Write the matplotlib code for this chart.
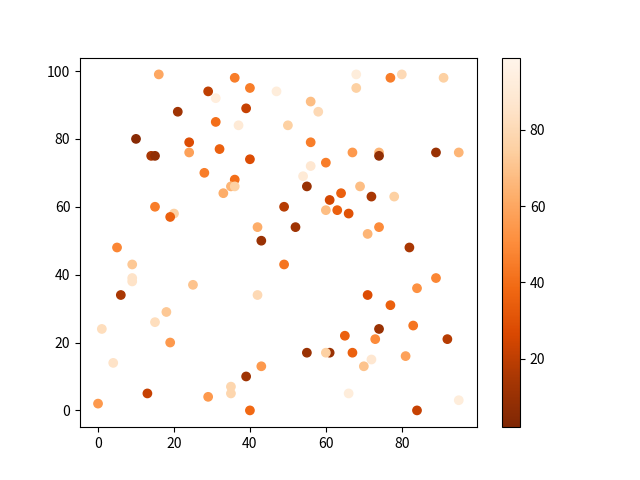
import matplotlib
matplotlib.use("Agg")
import matplotlib.pyplot as plt

plt.rcParams['font.family'] = ['Noto Sans CJK SC', 'DejaVu Sans']

x = [16, 36, 40, 47, 29, 31, 21, 39, 31, 37, 10, 24, 24, 32, 14, 15, 40, 28, 36, 35,
     36, 33, 15, 20, 19, 42, 43,
     68, 77, 80, 91, 68, 56, 58, 50, 56, 67, 74, 74, 89, 95, 56, 60, 54, 55, 69, 64,
     61, 72, 78, 49, 60, 63, 66, 52, 71, 74,
     5, 9, 9, 9, 6, 25, 42, 18, 15, 1, 19, 4, 43, 39, 13, 29, 35, 35, 0, 40,
     82, 49, 89, 84, 71, 77, 74, 83, 65, 73, 92, 55, 61, 60, 67, 72, 70, 81, 66, 95, 84]
y = [99, 98, 95, 94, 94, 92, 88, 89, 85, 84, 80, 79, 76, 77, 75, 75, 74, 70, 68, 66,
     66, 64, 60, 58, 57, 54, 50,
     99, 98, 99, 98, 95, 91, 88, 84, 79, 76, 76, 75, 76, 76, 72, 73, 69, 66, 66, 64,
     62, 63, 63, 60, 59, 59, 58, 54, 52, 54,
     48, 43, 39, 38, 34, 37, 34, 29, 26, 24, 20, 14, 13, 10, 5, 4, 7, 5, 2, 0,
     48, 43, 39, 36, 34, 31, 24, 25, 22, 21, 21, 17, 17, 17, 17, 15, 13, 16, 5, 3, 0]
c = [60, 45, 45, 92, 20, 93, 12, 22, 40, 90, 5, 28, 58, 35, 15, 8, 28, 45, 40, 65,
     75, 62, 45, 75, 35, 62, 10,
     92, 45, 80, 75, 75, 68, 80, 75, 45, 55, 65, 8, 10, 65, 88, 45, 90, 10, 68, 35,
     25, 15, 75, 18, 68, 35, 30, 12, 65, 50,
     48, 72, 85, 85, 15, 70, 80, 72, 82, 82, 55, 85, 55, 12, 22, 55, 78, 78, 55, 38,
     15, 42, 48, 52, 28, 35, 10, 42, 35, 50, 18, 10, 10, 75, 35, 88, 70, 58, 92, 92, 22]

fig, ax = plt.subplots(figsize=(6.4, 4.8), dpi=100)
sc = ax.scatter(x, y, c=c, cmap='Oranges_r', vmin=2, vmax=99)
fig.colorbar(sc)
fig.savefig('out.png')
